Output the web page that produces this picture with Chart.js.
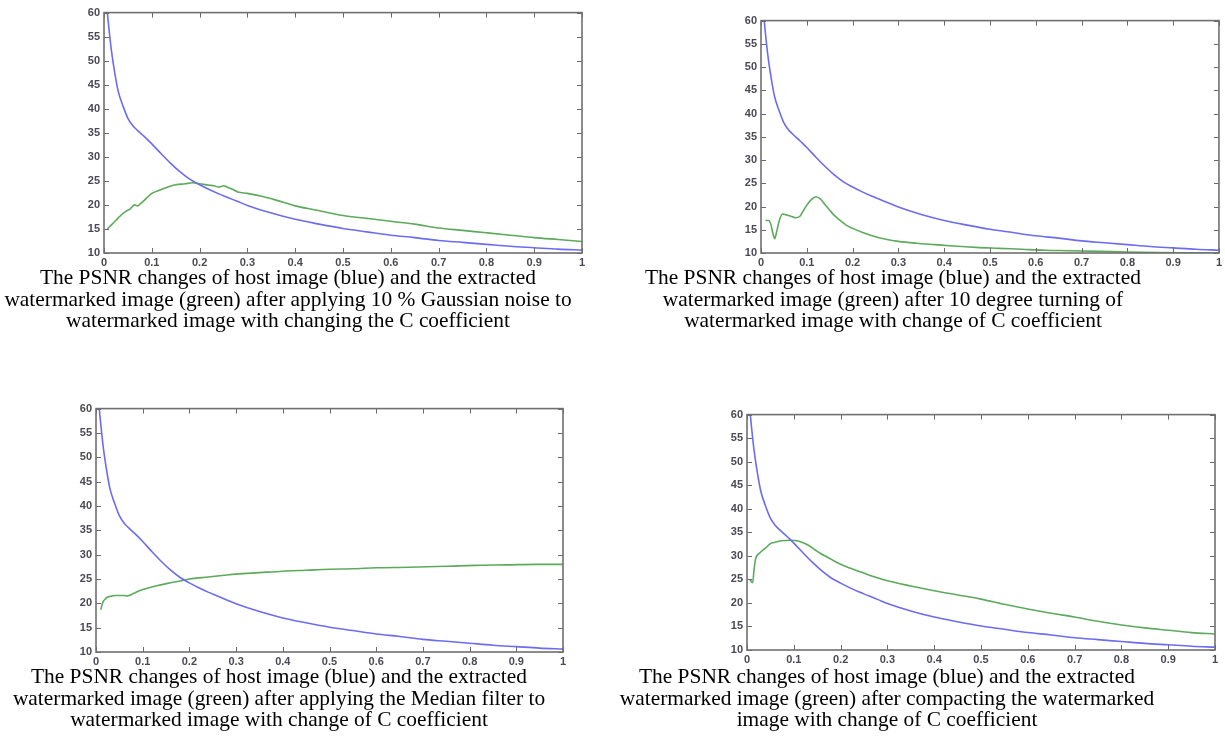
<!DOCTYPE html>
<html>
<head>
<meta charset="utf-8">
<script src="https://cdn.jsdelivr.net/npm/chart.js@4.4.0/dist/chart.umd.min.js"></script>
<style>
  html, body { margin: 0; padding: 0; background: #fff; width: 1225px; height: 742px; overflow: hidden; }
  .plot { position: absolute; }
  .cap { position: absolute; width: 700px; text-align: center; font-family: "Liberation Serif", "Times New Roman", serif;
         font-size: 21.4px; line-height: 21.7px; color: #000; white-space: nowrap; }
</style>
</head>
<body>
<canvas id="c1" class="plot"></canvas>
<canvas id="c2" class="plot"></canvas>
<canvas id="c3" class="plot"></canvas>
<canvas id="c4" class="plot"></canvas>

<div class="cap" id="t1"></div>
<div class="cap" id="t2"></div>
<div class="cap" id="t3"></div>
<div class="cap" id="t4"></div>

<script>
// ---------- data ----------
const xTickLabels = ['0', '0.1', '0.2', '0.3', '0.4', '0.5', '0.6', '0.7', '0.8', '0.9', '1'];
const yTickLabels = ['10', '15', '20', '25', '30', '35', '40', '45', '50', '55', '60'];

// host image PSNR (blue) – same curve in all four panels
const hostC    = [0.007, 0.01, 0.015, 0.02, 0.025, 0.03, 0.04, 0.05, 0.06, 0.07, 0.08, 0.09, 0.1, 0.12, 0.14, 0.16, 0.18, 0.2, 0.22, 0.24, 0.26, 0.28, 0.3, 0.35, 0.4, 0.45, 0.5, 0.55, 0.6, 0.65, 0.7, 0.75, 0.8, 0.85, 0.9, 0.95, 1.0];
const hostPSNR = [60, 57, 52.5, 49, 46, 43.5, 40.5, 38, 36.5, 35.5, 34.6, 33.7, 32.7, 30.6, 28.6, 26.8, 25.3, 24.2, 23.2, 22.3, 21.5, 20.7, 19.9, 18.3, 17.0, 16.0, 15.1, 14.4, 13.7, 13.2, 12.6, 12.2, 11.8, 11.4, 11.1, 10.8, 10.6];

// extracted watermark PSNR (green), panel 1: Gaussian noise
const gaussC    = [0.007, 0.015, 0.025, 0.035, 0.045, 0.055, 0.064, 0.07, 0.077, 0.09, 0.1, 0.12, 0.135, 0.15, 0.17, 0.185, 0.2, 0.22, 0.23, 0.24, 0.25, 0.256, 0.27, 0.28, 0.3, 0.33, 0.36, 0.4, 0.44, 0.5, 0.55, 0.6, 0.65, 0.7, 0.75, 0.8, 0.85, 0.9, 0.95, 1.0];
const gaussPSNR = [15, 15.8, 16.8, 17.8, 18.6, 19.2, 20, 19.8, 20.3, 21.5, 22.4, 23.2, 23.8, 24.2, 24.4, 24.6, 24.4, 24.1, 24.0, 23.7, 24.0, 23.8, 23.2, 22.7, 22.4, 21.8, 21.0, 19.8, 19.0, 17.8, 17.2, 16.6, 16.0, 15.2, 14.7, 14.2, 13.7, 13.2, 12.8, 12.4];

// panel 2: 10 degree rotation
const rotC    = [0.01, 0.017, 0.022, 0.026, 0.03, 0.034, 0.04, 0.047, 0.055, 0.065, 0.075, 0.085, 0.092, 0.1, 0.11, 0.12, 0.13, 0.14, 0.15, 0.16, 0.173, 0.186, 0.2, 0.225, 0.25, 0.275, 0.3, 0.34, 0.38, 0.42, 0.47, 0.52, 0.57, 0.62, 0.67, 0.74, 0.8, 0.87, 0.93, 1.0];
const rotPSNR = [17, 17, 16, 14.2, 13.1, 14.5, 17, 18.4, 18.2, 17.9, 17.6, 17.9, 19, 20.3, 21.5, 22.1, 21.6, 20.4, 19.2, 18.1, 17, 16, 15.3, 14.3, 13.5, 12.9, 12.5, 12.1, 11.8, 11.5, 11.2, 11, 10.8, 10.6, 10.5, 10.35, 10.2, 10.1, 10.05, 10];

// panel 3: median filter
const medC    = [0.01, 0.015, 0.02, 0.025, 0.03, 0.04, 0.05, 0.06, 0.066, 0.08, 0.093, 0.11, 0.13, 0.153, 0.18, 0.2, 0.24, 0.27, 0.3, 0.35, 0.4, 0.45, 0.5, 0.55, 0.6, 0.67, 0.75, 0.81, 0.88, 0.94, 1.0];
const medPSNR = [18.7, 20.3, 20.9, 21.3, 21.4, 21.6, 21.6, 21.6, 21.5, 22.0, 22.6, 23.1, 23.6, 24.1, 24.6, 25.0, 25.4, 25.7, 26.0, 26.3, 26.6, 26.8, 27.0, 27.1, 27.3, 27.4, 27.6, 27.8, 27.9, 28.0, 28.0];

// panel 4: compression
const compC    = [0.006, 0.012, 0.015, 0.018, 0.027, 0.04, 0.05, 0.06, 0.073, 0.094, 0.107, 0.12, 0.132, 0.145, 0.157, 0.174, 0.19, 0.2, 0.22, 0.245, 0.27, 0.3, 0.35, 0.4, 0.45, 0.5, 0.55, 0.6, 0.65, 0.7, 0.75, 0.8, 0.85, 0.9, 0.95, 1.0];
const compPSNR = [25, 24.3, 27, 29.2, 30.6, 31.7, 32.6, 32.9, 33.2, 33.3, 33.2, 32.8, 32.2, 31.3, 30.5, 29.6, 28.7, 28.2, 27.4, 26.5, 25.6, 24.7, 23.6, 22.6, 21.7, 20.8, 19.7, 18.7, 17.8, 17.0, 16.1, 15.3, 14.7, 14.2, 13.7, 13.4];

const captions = [
  ['The PSNR changes of host image (blue) and the extracted',
   'watermarked image (green) after applying 10 % Gaussian noise to',
   'watermarked image with changing the C coefficient'],
  ['The PSNR changes of host image (blue) and the extracted',
   'watermarked image (green) after 10 degree turning of',
   'watermarked image with change of C coefficient'],
  ['The PSNR changes of host image (blue) and the extracted',
   'watermarked image (green) after applying the Median filter to',
   'watermarked image with change of C coefficient'],
  ['The PSNR changes of host image (blue) and the extracted',
   'watermarked image (green) after compacting the watermarked',
   'image with change of C coefficient']
];

// ---------- layout ----------
const BLUE = '#6c6cf2';
const GREEN = '#5daa5d';
const AXIS_W = 30, AXIS_H = 18, PAD_TOP = 8;

const panels = [
  { id: 'c1', left: 104, top: 10,  w: 478, h: 243, padR: 8, gx: gaussC, gy: gaussPSNR },
  { id: 'c2', left: 761, top: 18,  w: 459, h: 235, padR: 5, gx: rotC,   gy: rotPSNR },
  { id: 'c3', left: 96,  top: 406, w: 467, h: 246, padR: 8, gx: medC,   gy: medPSNR },
  { id: 'c4', left: 747, top: 412, w: 468, h: 238, padR: 8, gx: compC,  gy: compPSNR }
];

const capPos = [
  { cx: 288, top: 267 },
  { cx: 893, top: 267 },
  { cx: 279, top: 666 },
  { cx: 887, top: 666 }
];

captions.forEach((lines, i) => {
  const el = document.getElementById('t' + (i + 1));
  el.innerHTML = lines.join('<br>');
  el.style.left = (capPos[i].cx - 350) + 'px';
  el.style.top = capPos[i].top + 'px';
});

const boxTicks = {
  id: 'boxTicks',
  afterDatasetsDraw(chart) {
    const ctx = chart.ctx, a = chart.chartArea;
    const xs = chart.scales.x, ys = chart.scales.y;
    ctx.save();
    ctx.strokeStyle = '#6a6a6a';
    ctx.lineWidth = 1;
    const L = 5;
    ctx.beginPath();
    xs.ticks.forEach(t => {
      const px = Math.round(xs.getPixelForValue(t.value)) + 0.5;
      ctx.moveTo(px, a.bottom); ctx.lineTo(px, a.bottom - L);
      ctx.moveTo(px, a.top); ctx.lineTo(px, a.top + L);
    });
    ys.ticks.forEach(t => {
      const py = Math.round(ys.getPixelForValue(t.value)) + 0.5;
      ctx.moveTo(a.left, py); ctx.lineTo(a.left + L, py);
      ctx.moveTo(a.right, py); ctx.lineTo(a.right - L, py);
    });
    ctx.stroke();
    ctx.lineWidth = 1.6;
    ctx.strokeStyle = '#707070';
    ctx.strokeRect(a.left, a.top, a.right - a.left, a.bottom - a.top);
    ctx.restore();
  }
};

const tickFont = { family: 'Liberation Sans, Arial, sans-serif', size: 11, weight: 'bold' };

panels.forEach(p => {
  const cv = document.getElementById(p.id);
  const W = p.w + AXIS_W + p.padR, H = p.h + PAD_TOP + AXIS_H;
  cv.width = W; cv.height = H;
  cv.style.left = (p.left - AXIS_W) + 'px';
  cv.style.top = (p.top - PAD_TOP) + 'px';
  cv.style.width = W + 'px'; cv.style.height = H + 'px';

  new Chart(cv, {
    type: 'line',
    data: {
      datasets: [
        { data: hostC.map((c, i) => ({ x: c, y: hostPSNR[i] })), borderColor: BLUE, borderWidth: 1.6,
          pointRadius: 0, cubicInterpolationMode: 'monotone', fill: false },
        { data: p.gx.map((c, i) => ({ x: c, y: p.gy[i] })), borderColor: GREEN, borderWidth: 1.6,
          pointRadius: 0, cubicInterpolationMode: 'monotone', fill: false }
      ]
    },
    options: {
      responsive: false,
      devicePixelRatio: 1,
      animation: false,
      layout: { padding: { top: PAD_TOP, right: p.padR, left: 0, bottom: 0 } },
      plugins: { legend: { display: false }, tooltip: { enabled: false } },
      scales: {
        x: {
          type: 'linear', min: 0, max: 1,
          grid: { display: false, drawTicks: false },
          border: { display: false },
          afterFit: s => { s.height = AXIS_H; },
          ticks: {
            stepSize: 0.1, autoSkip: false, maxRotation: 0, padding: 3,
            color: '#4a4a55', font: tickFont,
            callback: (v, i) => xTickLabels[i]
          }
        },
        y: {
          type: 'linear', min: 10, max: 60,
          grid: { display: false, drawTicks: false },
          border: { display: false },
          afterFit: s => { s.width = AXIS_W; },
          ticks: {
            stepSize: 5, padding: 4,
            color: '#4a4a55', font: tickFont,
            callback: (v, i) => yTickLabels[i]
          }
        }
      }
    },
    plugins: [boxTicks]
  });
});
</script>
</body>
</html>
